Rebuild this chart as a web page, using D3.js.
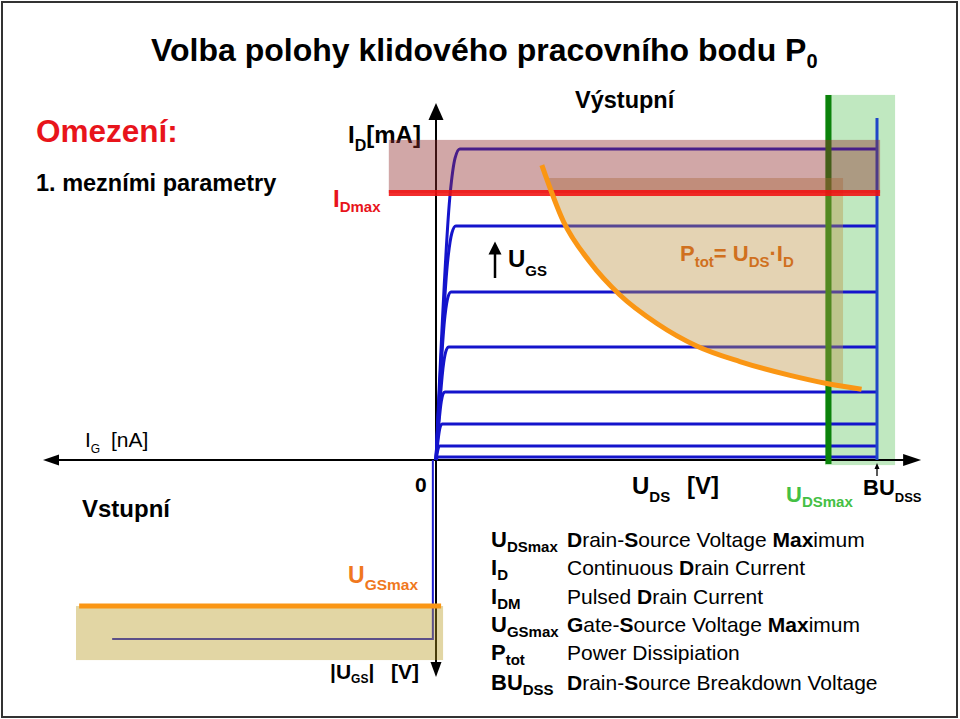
<!DOCTYPE html>
<html><head><meta charset="utf-8">
<script src="https://cdn.jsdelivr.net/npm/d3@7"></script>
<style>html,body{margin:0;padding:0;background:#fff;}svg{display:block;} text{white-space:pre;}</style>
</head><body>
<script>
// ---------------- data ----------------
const titleText = "Volba polohy klidového pracovního bodu P";
const titleSub = "0";
// output characteristics: saturation current [mA] and knee voltage [V] per U_GS step
const satCurrent  = [103.7, 78, 56, 37.7, 22.7, 12, 4.7, 1.0];
const kneeVoltage = [5.4, 4.5, 3.4, 2.9, 2.0, 1.4, 0.9, 0.5];
const kneeShape = [[0,0],[0.6,0.86],[0.8,0.97],[1,1]];   // relative knee profile (top curve)
const buDss = 100;          // breakdown voltage
const buTop = 114;          // top of breakdown line [mA]
const uDsMax = 89;          // U_DSmax
const greenBand = [88.2, 104.1, -1.7, 121.7];   // U from, U to, I from, I to
const iDmax = 89;           // I_Dmax [mA]
const iDmBand = [-10.7, 100.7, 89, 106.7];      // I_DM band
const pTot = [[24.0,98.3],[28.9,79.5],[34.9,66.0],[41.7,55.0],[50.1,45.5],[59.1,38.0],[68.9,32.8],[80.3,28.2],[88.6,25.5],[96.5,23.6]];
const pTotRegion = {top: 94, right: 92.3};
const outAxis = {uMax: 110, iMax: 119};
// input quadrant
const inAxis = {igMax: 100, ugsMax: 100};
const uGsMax = 67.3;
const uGsBand = [91.6, -1.8, 67.3, 92.2];   // I_G from, to, U_GS from, to
const uGsLine = [90.8, -1.3];
const inputCurve = [[0.8,0],[0.8,82.5],[82.4,82.5]];   // I_G [nA], |U_GS| [V]
// legend
const legendSymbols = [["U","DSmax"],["I","D"],["I","DM"],["U","GSmax"],["P","tot"],["BU","DSS"]];
const legendTexts = [
  [["D","b"],"rain-",["S","b"],"ource Voltage ",["Max","b"],"imum"],
  ["Continuous ",["D","b"],"rain Current"],
  ["Pulsed ",["D","b"],"rain Current"],
  [["G","b"],"ate-",["S","b"],"ource Voltage ",["Max","b"],"imum"],
  ["Power Dissipiation"],
  [["D","b"],"rain-",["S","b"],"ource Breakdown Voltage"]
];

// ---------------- drawing ----------------
const W = 960, H = 719;
const FONT = "'Liberation Sans', Arial, Helvetica, sans-serif";
const svg = d3.select("body").append("svg").attr("width", W).attr("height", H);

const xOut = d3.scaleLinear().domain([0, 100]).range([436, 877]);
const yOut = d3.scaleLinear().domain([0, 120]).range([460, 100]);
const xIn = d3.scaleLinear().domain([0, 100]).range([436, 43]);
const yIn = d3.scaleLinear().domain([0, 100]).range([460, 677]);

function rich(x, y, parts, o) {
  const t = svg.append("text").attr("x", x).attr("y", y)
    .attr("font-family", FONT).attr("font-size", o.size)
    .attr("font-weight", o.weight || "bold").attr("fill", o.fill || "#000");
  let shifted = false;
  parts.forEach(p => {
    const [txt, kind] = typeof p === "string" ? [p, "n"] : p;
    const ts = t.append("tspan").text(txt);
    if (kind === "s") {
      ts.attr("font-size", o.sub);
      if (!shifted) { ts.attr("dy", o.dy); shifted = true; }
    } else {
      if (shifted) { ts.attr("dy", -o.dy); shifted = false; }
      if (kind === "b") ts.attr("font-weight", "bold");
    }
  });
  return t;
}
function arrowHead(tipX, tipY, dir, len, half, color) {
  let pts;
  if (dir === "up") pts = [[tipX, tipY], [tipX - half, tipY + len], [tipX + half, tipY + len]];
  if (dir === "down") pts = [[tipX, tipY], [tipX - half, tipY - len], [tipX + half, tipY - len]];
  if (dir === "left") pts = [[tipX, tipY], [tipX + len, tipY - half], [tipX + len, tipY + half]];
  if (dir === "right") pts = [[tipX, tipY], [tipX - len, tipY - half], [tipX - len, tipY + half]];
  svg.append("path").attr("d", "M" + pts.map(p => p.join(",")).join("L") + "Z").attr("fill", color || "#000");
}

// frame
svg.append("rect").attr("x", 2).attr("y", 2).attr("width", 955).attr("height", 715)
  .attr("fill", "none").attr("stroke", "#333").attr("stroke-width", 2);

// green band (U_DSmax .. BU_DSS)
svg.append("rect").attr("x", xOut(greenBand[0])).attr("y", yOut(greenBand[3]))
  .attr("width", xOut(greenBand[1]) - xOut(greenBand[0])).attr("height", yOut(greenBand[2]) - yOut(greenBand[3]))
  .attr("fill", "#c0e8c0");

// axes
const ox = xOut(0), oy = yOut(0);
svg.append("line").attr("x1", ox).attr("y1", oy).attr("x2", ox).attr("y2", yOut(outAxis.iMax) + 12).attr("stroke", "#000").attr("stroke-width", 2);
arrowHead(ox, yOut(outAxis.iMax), "up", 17, 7.5);
svg.append("line").attr("x1", ox).attr("y1", oy).attr("x2", xOut(outAxis.uMax) - 12).attr("y2", oy).attr("stroke", "#000").attr("stroke-width", 2);
arrowHead(xOut(outAxis.uMax), oy, "right", 18, 6);
svg.append("line").attr("x1", ox).attr("y1", oy).attr("x2", xIn(inAxis.igMax) + 12).attr("y2", oy).attr("stroke", "#000").attr("stroke-width", 2);
arrowHead(xIn(inAxis.igMax), oy, "left", 16, 5.5);
svg.append("line").attr("x1", ox).attr("y1", oy).attr("x2", ox).attr("y2", yIn(inAxis.ugsMax) - 12).attr("stroke", "#000").attr("stroke-width", 2);
arrowHead(ox, yIn(inAxis.ugsMax), "down", 15, 5.5);

// output characteristics
const lineOut = d3.line().x(d => xOut(d[0])).y(d => yOut(d[1])).curve(d3.curveMonotoneX);
satCurrent.forEach((I, i) => {
  const k = kneeVoltage[i];
  const pts = kneeShape.map(([u, r]) => [u * k, r * I]).concat([[buDss, I]]);
  svg.append("path").attr("d", lineOut(pts)).attr("fill", "none").attr("stroke", "#1414cc").attr("stroke-width", 3);
});
svg.append("line").attr("x1", xOut(buDss)).attr("x2", xOut(buDss)).attr("y1", yOut(0)).attr("y2", yOut(buTop))
  .attr("stroke", "#1e46c8").attr("stroke-width", 3);

// U_DSmax green line
svg.append("line").attr("x1", xOut(uDsMax)).attr("x2", xOut(uDsMax)).attr("y1", yOut(greenBand[2]) - 1).attr("y2", yOut(greenBand[3]))
  .attr("stroke", "#0b820b").attr("stroke-width", 6);

// input characteristic
const lineIn = d3.line().x(d => xIn(d[0])).y(d => yIn(d[1]));
svg.append("path").attr("d", lineIn(inputCurve)).attr("fill", "none").attr("stroke", "#2020d0").attr("stroke-width", 2);

// labels drawn under the bands
rich(348, 143, ["I", ["D", "s"], "[mA]"], {size: 24, sub: 16, dy: 8});

// P_tot forbidden region (clipped above hyperbola)
const hypPath = lineOut(pTot);
const last = pTot[pTot.length - 1], first = pTot[0];
svg.append("clipPath").attr("id", "hypClip").append("path")
  .attr("d", hypPath + "L" + xOut(120) + "," + yOut(last[1]) + "L" + xOut(120) + "," + yOut(130) + "L" + xOut(first[0]) + "," + yOut(130) + "Z");
svg.append("rect").attr("x", xOut(15)).attr("y", yOut(pTotRegion.top))
  .attr("width", xOut(pTotRegion.right) - xOut(15)).attr("height", yOut(0) - yOut(pTotRegion.top))
  .attr("fill", "#bc9042").attr("fill-opacity", 0.4).attr("clip-path", "url(#hypClip)");

// I_DM band
svg.append("rect").attr("x", xOut(iDmBand[0])).attr("y", yOut(iDmBand[3]))
  .attr("width", xOut(iDmBand[1]) - xOut(iDmBand[0])).attr("height", yOut(iDmBand[2]) - yOut(iDmBand[3]))
  .attr("fill", "#912d2d").attr("fill-opacity", 0.42);
// I_Dmax red line
svg.append("line").attr("x1", xOut(iDmBand[0])).attr("x2", xOut(iDmBand[1])).attr("y1", yOut(iDmax)).attr("y2", yOut(iDmax))
  .attr("stroke", "#f01010").attr("stroke-width", 6).attr("stroke-opacity", 0.88);

// P_tot hyperbola
svg.append("path").attr("d", hypPath).attr("fill", "none").attr("stroke", "#fa9614").attr("stroke-width", 5);

// U_GSmax band and line
svg.append("rect").attr("x", xIn(uGsBand[0])).attr("y", yIn(uGsBand[2]))
  .attr("width", xIn(uGsBand[1]) - xIn(uGsBand[0])).attr("height", yIn(uGsBand[3]) - yIn(uGsBand[2]))
  .attr("fill", "#b6981b").attr("fill-opacity", 0.4);
svg.append("line").attr("x1", xIn(uGsLine[0])).attr("x2", xIn(uGsLine[1])).attr("y1", yIn(uGsMax)).attr("y2", yIn(uGsMax))
  .attr("stroke", "#fa9614").attr("stroke-width", 5);

// BU_DSS small arrow
svg.append("line").attr("x1", xOut(buDss)).attr("x2", xOut(buDss)).attr("y1", 476).attr("y2", 468).attr("stroke", "#000").attr("stroke-width", 1.3);
arrowHead(xOut(buDss), 463, "up", 6, 2.5);

// U_GS arrow
svg.append("line").attr("x1", 495).attr("x2", 495).attr("y1", 278).attr("y2", 252).attr("stroke", "#000").attr("stroke-width", 2.5);
arrowHead(495, 241.5, "up", 13, 6.5);

// ---------------- texts ----------------
rich(151, 61, [titleText, [titleSub, "s"]], {size: 32, sub: 20, dy: 7});
svg.append("text").attr("x", 36).attr("y", 141.5).attr("font-family", FONT).attr("font-size", 31.5).attr("font-weight", "bold").attr("fill", "#e8141b").text("Omezení:");
svg.append("text").attr("x", 36).attr("y", 190.5).attr("font-family", FONT).attr("font-size", 23.5).attr("font-weight", "bold").text("1. mezními parametry");
svg.append("text").attr("x", 575).attr("y", 108).attr("font-family", FONT).attr("font-size", 23.5).attr("font-weight", "bold").text("Výstupní");
rich(333, 207, ["I", ["Dmax", "s"]], {size: 24, sub: 15, dy: 5, fill: "#e8141b"});
rich(508, 266.5, ["U", ["GS", "s"]], {size: 24, sub: 15, dy: 9});
rich(680, 261, ["P", ["tot", "s"], "= U", ["DS", "s"], "·I", ["D", "s"]], {size: 22, sub: 15, dy: 6, fill: "#d0701e"});
rich(85, 447, ["I", ["G", "s"]], {size: 21, sub: 12, dy: 6, weight: "normal"});
svg.append("text").attr("x", 111).attr("y", 447).attr("font-family", FONT).attr("font-size", 21).text("[nA]");
svg.append("text").attr("x", 82).attr("y", 517).attr("font-family", FONT).attr("font-size", 24).attr("font-weight", "bold").text("Vstupní");
svg.append("text").attr("x", 415).attr("y", 491.5).attr("font-family", FONT).attr("font-size", 21).attr("font-weight", "bold").text("0");
rich(348, 583, ["U", ["GSmax", "s"]], {size: 23, sub: 15.5, dy: 7, fill: "#f0781e"});
rich(330, 678.5, ["|U", ["GS", "s"], "|"], {size: 21, sub: 12, dy: 4});
svg.append("text").attr("x", 391).attr("y", 678.5).attr("font-family", FONT).attr("font-size", 21).attr("font-weight", "bold").text("[V]");
rich(632, 494, ["U", ["DS", "s"]], {size: 24, sub: 15, dy: 8});
svg.append("text").attr("x", 687).attr("y", 494).attr("font-family", FONT).attr("font-size", 24).attr("font-weight", "bold").text("[V]");
rich(786, 501.5, ["U", ["DSmax", "s"]], {size: 22, sub: 15, dy: 5, fill: "#44c044"});
rich(863, 494.5, ["BU", ["DSS", "s"]], {size: 22, sub: 13, dy: 7.5});

// legend
const legendY = [547, 575, 603.5, 632, 660, 689.5];
legendSymbols.forEach((s, i) => {
  rich(491, legendY[i], [s[0], [s[1], "s"]], {size: 22, sub: 15, dy: 5});
  rich(567, legendY[i], legendTexts[i], {size: 21, weight: "normal"});
});
</script>
</body></html>
